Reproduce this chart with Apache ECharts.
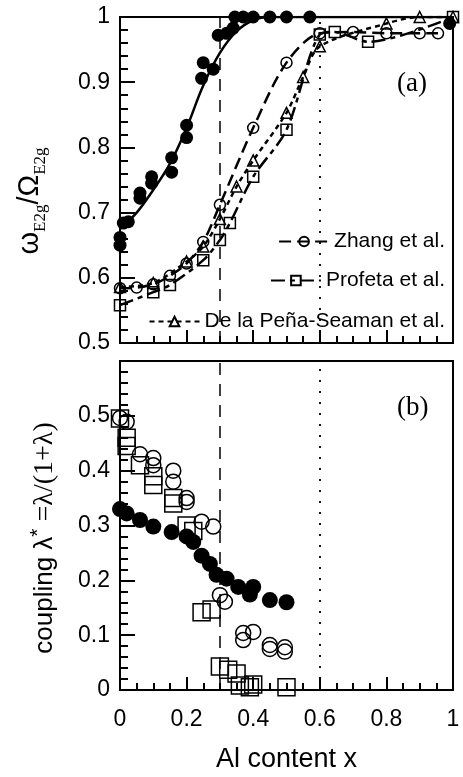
<!DOCTYPE html>
<html>
<head>
<meta charset="utf-8">
<script src="https://cdn.jsdelivr.net/npm/echarts@6/dist/echarts.min.js"></script>
<style>
html,body{margin:0;padding:0;background:#fff;}
#chart{width:463px;height:777px;}
</style>
</head>
<body>
<div id="chart"></div>
<script>
// panel (a): omega_E2g / Omega_E2g vs Al content
var filledA = [[0,0.65],[0,0.662],[0.01,0.684],[0.025,0.686],[0.06,0.73],[0.06,0.722],[0.095,0.755],[0.095,0.745],
    [0.155,0.784],[0.155,0.762],[0.2,0.834],[0.2,0.815],[0.245,0.906],[0.25,0.93],[0.28,0.92],[0.295,0.972],
    [0.32,0.975],[0.34,0.983],[0.345,1],[0.37,1],[0.4,1],[0.45,1],[0.5,1],[0.57,1],[0.99,0.99]];
var fitA = [[0,0.675],[0.05,0.7],[0.1,0.735],[0.15,0.775],[0.2,0.83],[0.25,0.895],[0.3,0.945],[0.35,0.978],
    [0.4,0.995],[0.45,1],[0.6,1],[1,1]];
var zhangA = [[0,0.584],[0.05,0.585],[0.1,0.59],[0.15,0.603],[0.2,0.622],[0.25,0.655],[0.3,0.712],[0.4,0.83],
    [0.5,0.93],[0.6,0.975],[0.7,0.977],[0.8,0.975],[0.9,0.975],[0.955,0.975]];
var profetaA = [[0,0.558],[0.1,0.578],[0.15,0.589],[0.25,0.627],[0.3,0.658],[0.33,0.684],[0.4,0.755],[0.5,0.827],
    [0.6,0.973],[0.645,0.977],[0.745,0.962],[1,1]];
var penaA = [[0,0.586],[0.1,0.592],[0.2,0.625],[0.25,0.648],[0.3,0.69],[0.35,0.74],[0.4,0.78],[0.5,0.853],
    [0.55,0.908],[0.6,0.955],[0.8,0.99],[0.9,1],[1,1]];

// panel (b): coupling lambda* vs Al content
var filledB = [[0,0.33],[0.02,0.322],[0.06,0.31],[0.1,0.298],[0.155,0.288],[0.2,0.28],[0.22,0.27],[0.245,0.245],
    [0.27,0.23],[0.29,0.21],[0.32,0.203],[0.355,0.188],[0.4,0.188],[0.39,0.174],[0.45,0.164],[0.5,0.16]];
var zhangB = [[0,0.496],[0.02,0.489],[0.06,0.43],[0.1,0.423],[0.1,0.41],[0.16,0.4],[0.16,0.38],[0.2,0.35],[0.2,0.343],
    [0.245,0.307],[0.28,0.298],[0.3,0.173],[0.315,0.161],[0.37,0.104],[0.37,0.091],[0.4,0.106],[0.45,0.082],
    [0.45,0.075],[0.495,0.078],[0.495,0.07]];
var profetaB = [[0,0.495],[0.02,0.46],[0.02,0.445],[0.06,0.41],[0.1,0.39],[0.1,0.374],[0.16,0.35],[0.16,0.34],
    [0.2,0.3],[0.22,0.29],[0.245,0.142],[0.275,0.147],[0.3,0.043],[0.325,0.037],[0.35,0.03],[0.36,0.008],
    [0.39,0.005],[0.4,0.01],[0.5,0.005]];

var refLines = [0.3, 0.6];
var xTicks = [0, 1, 0.2];      // min, max, interval
var yTicksA = [0.5, 1, 0.1];
var yTicksB = [0, 0.6, 0.1];

var sans = 'Liberation Sans';
var serif = 'Liberation Serif';

function markLines(){
    return {
        silent: true,
        symbol: 'none',
        label: {show: false},
        data: [
            {xAxis: refLines[0], lineStyle: {type: [12, 9], color: '#000', width: 1.5}},
            {xAxis: refLines[1], lineStyle: {type: [2, 9], color: '#000', width: 1.8}}
        ]
    };
}

var xAxisBase = function(idx, showLabels){
    return {
        type: 'value', gridIndex: idx,
        min: xTicks[0], max: xTicks[1], interval: xTicks[2],
        axisLine: {show: true, onZero: false, lineStyle: {color: '#000', width: 2}},
        axisTick: {show: true, inside: true, length: 13, lineStyle: {color: '#000', width: 2}},
        minorTick: {show: true, splitNumber: 4, length: 7, lineStyle: {color: '#000', width: 2}},
        splitLine: {show: false},
        axisLabel: {show: showLabels, color: '#000', fontFamily: sans, fontSize: 23, margin: 18}
    };
};

var yAxisBase = function(idx, t){
    return {
        type: 'value', gridIndex: idx,
        min: t[0], max: t[1], interval: t[2],
        axisLine: {show: true, onZero: false, lineStyle: {color: '#000', width: 2}},
        axisTick: {show: true, inside: true, length: 15, lineStyle: {color: '#000', width: 2}},
        minorTick: {show: true, splitNumber: 5, length: 8, lineStyle: {color: '#000', width: 2}},
        splitLine: {show: false},
        axisLabel: {color: '#000', fontFamily: sans, fontSize: 23, margin: 10}
    };
};

var xB = xAxisBase(1, true);
xB.name = 'Al content x';
xB.nameLocation = 'middle';
xB.nameGap = 56;
xB.nameTextStyle = {color: '#000', fontFamily: sans, fontSize: 27};

var yB = yAxisBase(1, yTicksB);
yB.axisLabel.showMaxLabel = false;

var openStyle = {color: 'rgba(255,255,255,0)', borderColor: '#000', borderWidth: 1.5, opacity: 1};

function openLine(name, data, symbol, dash){
    return {
        name: name, type: 'line', xAxisIndex: 0, yAxisIndex: 0,
        data: data, smooth: 0.3,
        symbol: symbol, symbolSize: 11,
        lineStyle: {color: '#000', width: 2.5, type: dash},
        itemStyle: openStyle,
        z: 3
    };
}

var legendBase = function(name, top){
    return {
        data: [name], right: 13, top: top,
        itemWidth: 50, itemHeight: 12, itemGap: 5,
        textStyle: {color: '#000', fontFamily: sans, fontSize: 21},
        selectedMode: false
    };
};

var myChart = echarts.init(document.getElementById('chart'));
var option = {
    backgroundColor: '#fff',
    animation: false,
    grid: [
        {left: 120, top: 17, width: 333, height: 326, show: true, borderColor: '#000', borderWidth: 2},
        {left: 120, top: 361, width: 333, height: 329, show: true, borderColor: '#000', borderWidth: 2}
    ],
    xAxis: [xAxisBase(0, false), xB],
    yAxis: [yAxisBase(0, yTicksA), yB],
    legend: [
        legendBase('Zhang et al.', 226),
        legendBase('Profeta et al.', 265),
        legendBase('De la Peña-Seaman et al.', 306)
    ],
    graphic: [
        {type: 'text', left: 397, top: 70, style: {text: '(a)', fontFamily: serif, fontSize: 27, fill: '#000'}},
        {type: 'text', left: 397, top: 394, style: {text: '(b)', fontFamily: serif, fontSize: 27, fill: '#000'}},
        {
            type: 'text', x: 30, y: 201, rotation: Math.PI / 2,
            style: {
                text: '{w|ω}{s|E2g}{w|/Ω}{s|E2g}',
                align: 'center', verticalAlign: 'middle', fill: '#000',
                rich: {
                    w: {fontFamily: sans, fontSize: 29, lineHeight: 38, verticalAlign: 'middle'},
                    s: {fontFamily: serif, fontSize: 17, verticalAlign: 'bottom'}
                }
            }
        },
        {
            type: 'text', x: 45, y: 538, rotation: Math.PI / 2,
            style: {
                text: '{a|coupling λ}{p|*}{b| =λ/(1+λ)}',
                align: 'center', verticalAlign: 'middle', fill: '#000',
                rich: {
                    a: {fontFamily: sans, fontSize: 26, lineHeight: 34, verticalAlign: 'middle'},
                    p: {fontFamily: sans, fontSize: 21, verticalAlign: 'top'},
                    b: {fontFamily: serif, fontSize: 28, lineHeight: 34, verticalAlign: 'middle'}
                }
            }
        }
    ],
    series: [
        {
            type: 'line', xAxisIndex: 0, yAxisIndex: 0,
            data: fitA, smooth: 0.4, showSymbol: false, silent: true,
            lineStyle: {color: '#000', width: 2.5},
            markLine: markLines(), z: 2
        },
        {
            type: 'scatter', xAxisIndex: 0, yAxisIndex: 0,
            data: filledA, symbol: 'circle', symbolSize: 13,
            itemStyle: {color: '#000', opacity: 1}, z: 4
        },
        openLine('Zhang et al.', zhangA, 'circle', [12, 6]),
        openLine('Profeta et al.', profetaA, 'rect', [14, 5, 5, 5]),
        openLine('De la Peña-Seaman et al.', penaA, 'triangle', [5, 4]),
        {
            type: 'scatter', xAxisIndex: 1, yAxisIndex: 1,
            data: filledB, symbol: 'circle', symbolSize: 16,
            itemStyle: {color: '#000', opacity: 1},
            markLine: markLines(), z: 2
        },
        {
            type: 'scatter', xAxisIndex: 1, yAxisIndex: 1,
            data: zhangB, symbol: 'circle', symbolSize: 15,
            itemStyle: openStyle, z: 3
        },
        {
            type: 'scatter', xAxisIndex: 1, yAxisIndex: 1,
            data: profetaB, symbol: 'rect', symbolSize: 17,
            itemStyle: openStyle, z: 3
        }
    ]
};
myChart.setOption(option);
</script>
</body>
</html>
